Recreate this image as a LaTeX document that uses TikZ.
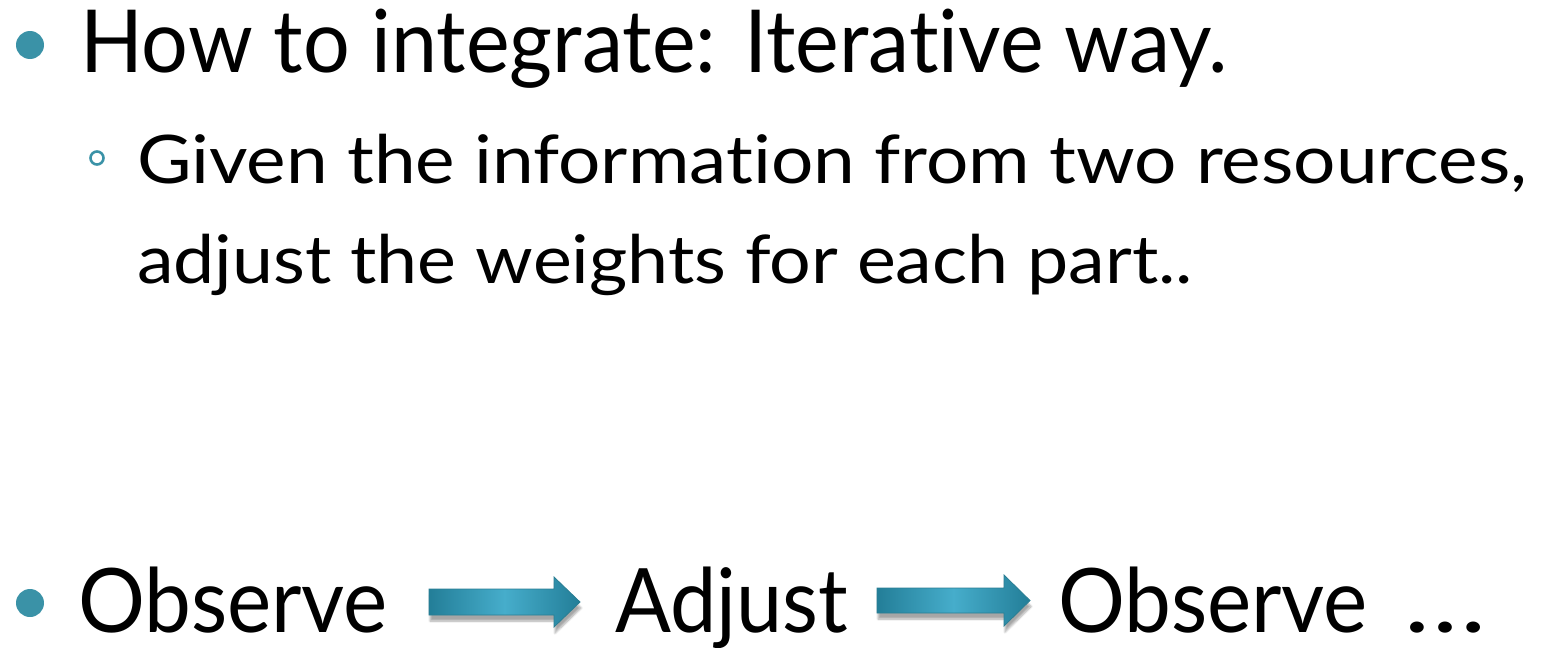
\documentclass[tikz,border=0pt]{standalone}
\usepackage{fontspec}
\setmainfont{Lato}[Ligatures={NoCommon,NoContextual}]
\usetikzlibrary{shadows,shadows.blur}
\definecolor{bullteal}{HTML}{3A92A7}
\definecolor{arrowdark}{HTML}{237E98}
\definecolor{arrowlight}{HTML}{46ADCB}
\definecolor{arrowedge}{HTML}{2A7E93}
\newcommand\fitw[2]{\sbox0{#2}\scalebox{\fpeval{(#1)/(\the\wd0)}}[1]{\usebox0}}
\tikzset{
  txt/.style={anchor=base west,inner sep=0pt,outer sep=0pt,text=black},
  bigtxt/.style={txt,font=\fontsize{87}{100}\selectfont},
  midtxt/.style={txt,font=\fontsize{67}{80}\selectfont},
  lowtxt/.style={txt,font=\fontsize{89}{100}\selectfont},
  dotbullet/.style={circle,fill=bullteal,minimum size=28pt,inner sep=0pt},
  ringbullet/.style={circle,draw=bullteal,line width=2.6pt,minimum size=13pt,inner sep=0pt},
  bigarrow/.style={draw=arrowedge,line width=0.8pt,line join=miter,
    left color=arrowdark,right color=arrowdark,middle color=arrowlight,
    blur shadow={shadow xshift=1pt,shadow yshift=-6pt,shadow blur steps=8,shadow opacity=35}}
}
\begin{document}
\begin{tikzpicture}[x=1pt,y=-1pt]
\useasboundingbox (0,0) rectangle (1548,648);
\node[dotbullet] (b1) at (30,45) {};
\node[bigtxt] (t1) at (80,72) {\fitw{1148}{How to integrate: Iterative way.}};
\node[ringbullet] (b2) at (97,158) {};
\node[midtxt] (t2) at (137,183) {\fitw{1390}{Given the information from two resources,}};
\node[midtxt] (t3) at (137,283) {\fitw{1056}{adjust the weights for each part..}};
\node[dotbullet] (b3) at (30,603) {};
\node[lowtxt] (o1) at (78,632) {\fitw{310}{Observe}};
\node[lowtxt] (adj) at (615,632) {\fitw{233}{Adjust}};
\node[lowtxt] (o2) at (1058,632) {\fitw{310}{Observe}};
\node[lowtxt] (dots) at (1404,632) {\fitw{82}{…}};
\path[bigarrow] (429,589) -- (554,589) -- (554,577) -- (580,602) -- (554,627) -- (554,615) -- (429,615) -- cycle;
\path[bigarrow] (877,588) -- (1004,588) -- (1004,575) -- (1030,600.5) -- (1004,626) -- (1004,613) -- (877,613) -- cycle;
\end{tikzpicture}
\end{document}
